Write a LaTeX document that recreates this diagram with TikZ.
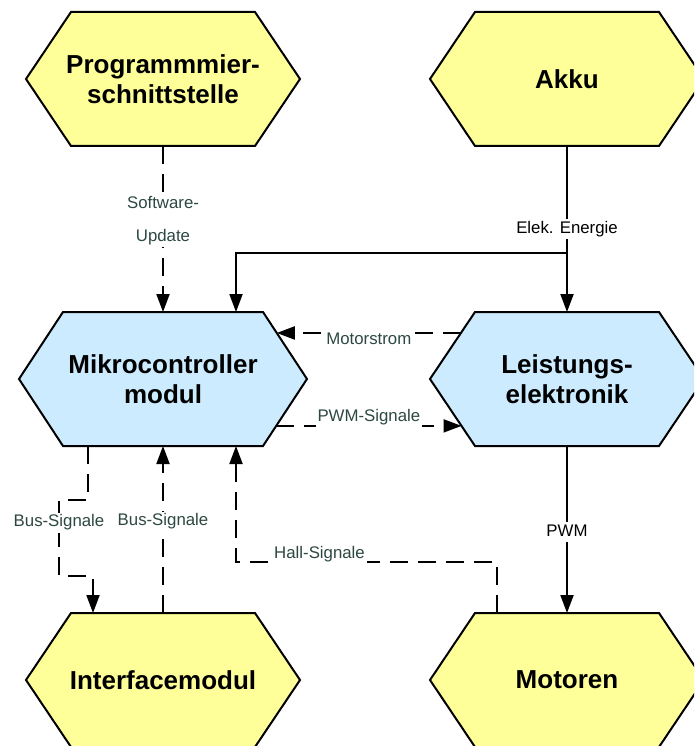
\documentclass[tikz,border=0pt]{standalone}
\usepackage{fontspec}
\setmainfont{Liberation Sans}
\usetikzlibrary{arrows.meta,calc}

\definecolor{blockyellow}{HTML}{FFFF99}
\definecolor{blockblue}{HTML}{CCEBFF}
\definecolor{flowtext}{RGB}{45,72,66}

% Hexagonal block: #1 name, #2 fill, #3 centre x, #4 centre y,
% #5 half width up to the tips, #6 horizontal size of the cut corners, #7 text
\newcommand{\hexblock}[7]{%
  \coordinate (#1-w)  at ({#3-#5},#4);
  \coordinate (#1-nw) at ({#3-#5+#6},{#4-67});
  \coordinate (#1-ne) at ({#3+#5-#6},{#4-67});
  \coordinate (#1-e)  at ({#3+#5},#4);
  \coordinate (#1-se) at ({#3+#5-#6},{#4+67});
  \coordinate (#1-sw) at ({#3-#5+#6},{#4+67});
  \filldraw[blockframe,fill=#2] (#1-w) -- (#1-nw) -- (#1-ne) -- (#1-e) -- (#1-se) -- (#1-sw) -- cycle;
  \node[blocktext,minimum width={(2*#5)*1pt},minimum height=134pt] (#1) at (#3,#4) {#7};
}

\tikzset{
  blockframe/.style={draw=black,line width=2pt,line join=miter},
  blocktext/.style={inner sep=0pt,outer sep=0pt,align=center,
    font=\fontsize{26}{30}\selectfont\bfseries},
  flow/.style={line width=2pt,-{Triangle[length=18pt,width=13pt]}},
  dashflow/.style={flow,dash pattern=on 18pt off 10pt},
  labelbase/.style={fill=white,inner xsep=2pt,inner ysep=2pt,text=flowtext,
    font=\fontsize{16.8}{33}\selectfont},
  flowlabel/.style={labelbase,text height=12pt,text depth=4pt},
}

\begin{document}
\begin{tikzpicture}[x=1pt,y=-1pt]
\useasboundingbox (0,0) rectangle (694,746);
\clip (0,0) rectangle (694,746);
\fill[white] (0,0) rectangle (694,746);

% blocks
\hexblock{pg}{blockyellow}{163}{79}{137}{45}{Programmmier-\\schnittstelle}
\hexblock{ak}{blockyellow}{567}{79}{137}{45}{Akku}
\hexblock{mk}{blockblue}{163}{379}{144}{44}{Mikrocontroller\\modul}
\hexblock{le}{blockblue}{567}{379}{137}{45}{Leistungs-\\elektronik}
\hexblock{im}{blockyellow}{163}{680}{137}{45}{Interfacemodul}
\hexblock{mo}{blockyellow}{567}{680}{137}{45}{Motoren}

% software update
\draw[dashflow] (pg.south) -- node[labelbase,align=center,pos=0.45]{Software-\\Update} (mk.north);

% energy supply
\draw[flow] (ak.south) -- node[flowlabel,text=black,pos=0.5]{Elek. Energie} (le.north);
\draw[flow] ([yshift=-107pt]ak.south) -| ([xshift=73pt]mk.north);

% signals between controller and power stage
\draw[dashflow] ($(le-nw)!0.313!(le-w)$) -- node[flowlabel,yshift=-8pt]{Motorstrom} ($(mk-ne)!0.313!(mk-e)$);
\draw[dashflow] ($(mk-e)!0.70!(mk-se)$) -- node[flowlabel,yshift=8pt]{PWM-Signale} ($(le-w)!0.70!(le-sw)$);

% bus signals
\draw[dashflow] ([xshift=-75pt]mk.south) -- ++(0,54) -- ++(-29,0)
  -- node[flowlabel,pos=0.3]{Bus-Signale} ++(0,76) -- ++(34,0) -- ([xshift=-70pt]im.north);
\draw[dashflow] (im.north) -- node[flowlabel,pos=0.545]{Bus-Signale} (mk.south);

% hall sensors
\draw[dashflow] ([xshift=-70pt]mo.north) |- node[flowlabel,pos=0.84,yshift=8pt]{Hall-Signale}
  ([xshift=73pt,yshift=-116pt]mk.south) -- ([xshift=73pt]mk.south);

% motor drive
\draw[flow] (le.south) -- node[flowlabel,text=black,pos=0.515]{PWM} (mo.north);
\end{tikzpicture}
\end{document}
